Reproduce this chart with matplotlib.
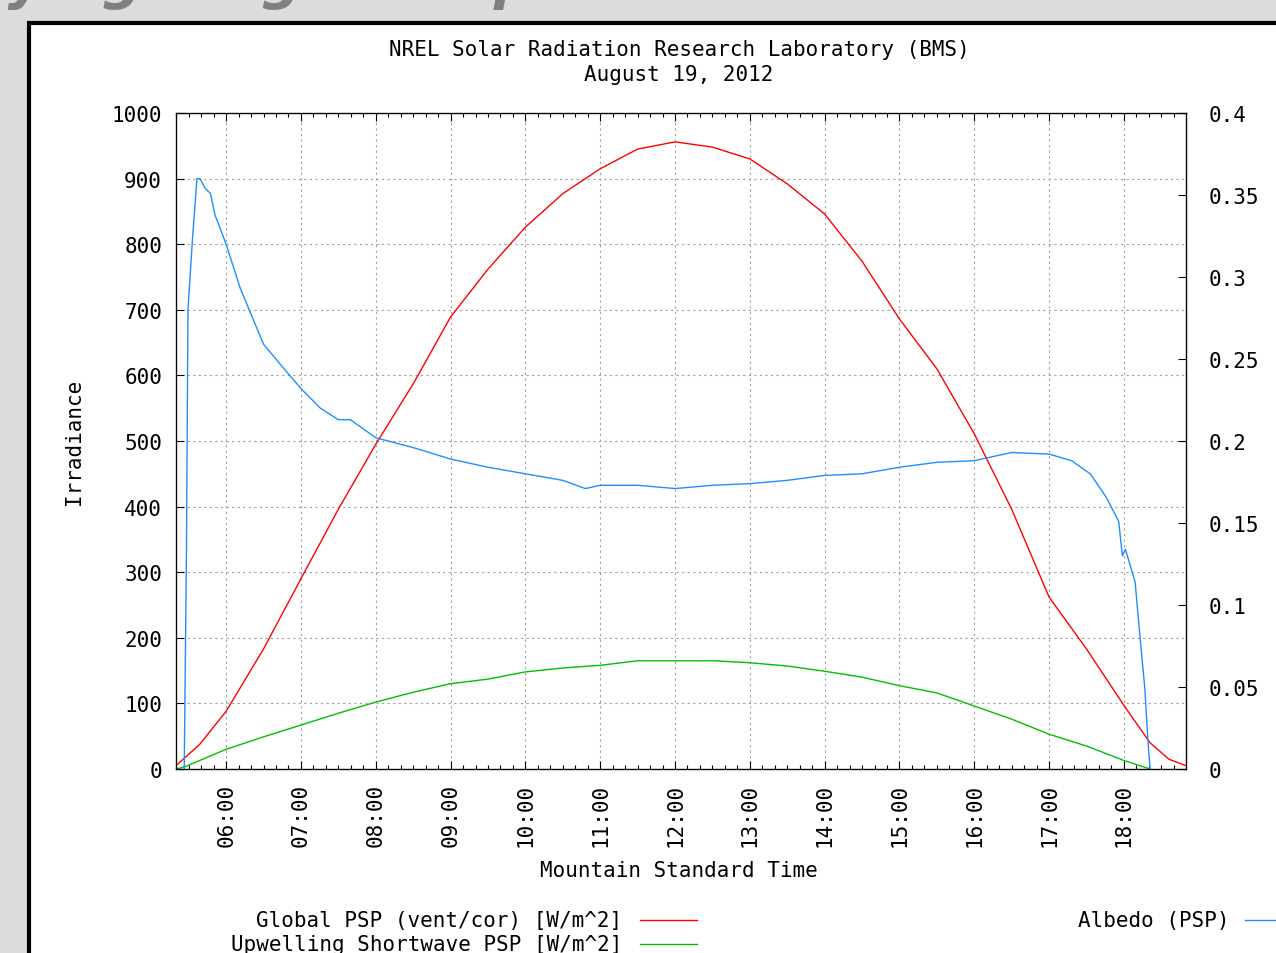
import matplotlib
matplotlib.use('Agg')
import matplotlib.pyplot as plt
from matplotlib.lines import Line2D
from matplotlib.patches import Rectangle
from matplotlib.ticker import MultipleLocator

# hours (Mountain Standard Time) and readings
global_t = [5.33, 5.65, 6.0, 6.5, 7.0, 7.5, 8.0, 8.5, 9.0, 9.5, 10.0, 10.5, 11.0, 11.5,
            12.0, 12.5, 13.0, 13.5, 14.0, 14.5, 15.0, 15.5, 16.0, 16.5, 17.0, 17.5,
            18.0, 18.35, 18.6, 18.83]
global_psp = [5, 38, 88, 183, 290, 396, 495, 587, 689, 762, 826, 877, 915, 945,
              956, 948, 930, 892, 846, 774, 686, 610, 511, 396, 262, 183,
              97, 40, 15, 5]

up_t = [5.33, 5.44, 6.0, 6.5, 7.0, 7.5, 8.0, 8.5, 9.0, 9.5, 10.0, 10.5, 11.0, 11.5,
        12.0, 12.5, 13.0, 13.5, 14.0, 14.5, 15.0, 15.5, 16.0, 16.5, 17.0, 17.5,
        18.0, 18.35]
upwelling = [0, 3, 30, 49, 67, 85, 102, 117, 130, 137, 148, 154, 158, 165,
             165, 165, 162, 157, 149, 140, 127, 116, 96, 76, 53, 35,
             13, 0]

alb_t = [5.44, 5.47, 5.49, 5.55, 5.61, 5.65, 5.72, 5.79, 5.85, 6.0, 6.19, 6.5, 6.72,
         7.0, 7.26, 7.5, 7.66, 8.0, 8.33, 8.5, 9.0, 9.5, 10.0, 10.5, 10.8, 11.0,
         11.5, 12.0, 12.5, 13.0, 13.5, 14.0, 14.5, 15.0, 15.5, 16.0, 16.5, 17.0,
         17.3, 17.55, 17.76, 17.93, 17.98, 18.02, 18.15, 18.21, 18.28, 18.32, 18.35]
albedo = [0.0, 0.134, 0.280, 0.323, 0.360, 0.360, 0.354, 0.351, 0.338, 0.320, 0.293,
          0.259, 0.247, 0.232, 0.220, 0.213, 0.213, 0.202, 0.198, 0.196, 0.189, 0.184,
          0.180, 0.176, 0.171, 0.173, 0.173, 0.171, 0.173, 0.174, 0.176, 0.179, 0.180,
          0.184, 0.187, 0.188, 0.193, 0.192, 0.188, 0.180, 0.166, 0.151, 0.130, 0.134,
          0.114, 0.083, 0.049, 0.018, 0.0]

hours = list(range(6, 19))
hour_labels = [f'{h:02d}:00' for h in hours]
alb_ticks = [0, 0.05, 0.1, 0.15, 0.2, 0.25, 0.3, 0.35, 0.4]
alb_labels = ['0', '0.05', '0.1', '0.15', '0.2', '0.25', '0.3', '0.35', '0.4']

W, H = 1276, 954
mono = 'DejaVu Sans Mono'
fs = 15

fig = plt.figure(figsize=(W / 100, H / 100), dpi=100, facecolor='#dcdcdc')

# clipped page heading above the chart panel
fig.text(-138 / W, 1 + 2 / H, 'Studying Large Samples', fontsize=40, color='#808080',
         fontweight='bold', fontstyle='italic', ha='left', va='baseline', zorder=-3)

# white panel with black frame
fig.patches.append(Rectangle((29 / W, -0.1), 1.2, 1.1 - 24 / H, transform=fig.transFigure,
                             facecolor='white', edgecolor='black', lw=3, zorder=-2))

ax = fig.add_axes([176 / W, 1 - 770 / H, (1186 - 176) / W, (770 - 114) / H])
ax.set_facecolor('none')
ax.plot(global_t, global_psp, color='#ff0000', lw=1.0)
ax.plot(up_t, upwelling, color='#00c000', lw=1.0)

ax.set_xlim(5.33, 18.83)
ax.set_ylim(0, 1000)
ax.set_xticks(hours)
ax.set_xticklabels(hour_labels, rotation=90, family=mono, fontsize=fs)
ax.xaxis.set_minor_locator(MultipleLocator(1 / 6))
ax.yaxis.set_major_locator(MultipleLocator(100))
for lab in ax.get_yticklabels():
    lab.set_family(mono)
    lab.set_fontsize(fs)
ax.tick_params(which='both', direction='in', top=True, right=True, width=0.8)
ax.tick_params(which='major', length=6)
ax.tick_params(which='minor', length=3)
ax.tick_params(axis='x', pad=10)
ax.tick_params(axis='y', pad=10)
ax.grid(True, color='#a0a0a0', lw=0.8, linestyle=(0, (2, 3)))
for sp in ax.spines.values():
    sp.set_linewidth(0.9)

ax2 = ax.twinx()
ax2.plot(alb_t, albedo, color='#1e8fff', lw=1.0)
ax2.set_ylim(0, 0.4)
ax2.set_yticks(alb_ticks)
ax2.set_yticklabels(alb_labels, family=mono, fontsize=fs)
ax2.tick_params(direction='in', length=6, width=0.8, pad=16)

ax.set_ylabel('Irradiance', family=mono, fontsize=fs)
ax.yaxis.set_label_coords((84 - 176) / (1186 - 176), 0.5)
fig.text(679 / W, 1 - 871 / H, 'Mountain Standard Time', family=mono, fontsize=fs,
         ha='center', va='center')

fig.text(679 / W, 1 - 50 / H, 'NREL Solar Radiation Research Laboratory (BMS)',
         family=mono, fontsize=fs, ha='center', va='center')
fig.text(679 / W, 1 - 75 / H, 'August 19, 2012', family=mono, fontsize=fs,
         ha='center', va='center')

# legend drawn by hand, gnuplot style
legend = [('Global PSP (vent/cor) [W/m^2]', '#ff0000', 622, 640, 697, 921),
          ('Upwelling Shortwave PSP [W/m^2]', '#00c000', 622, 640, 697, 945),
          ('Albedo (PSP)', '#1e8fff', 1229, 1245, 1300, 921)]
for label, col, tx, x0, x1, y in legend:
    fig.text(tx / W, 1 - y / H, label, family=mono, fontsize=fs, ha='right', va='center')
    fig.lines.append(Line2D([x0 / W, x1 / W], [1 - y / H, 1 - y / H], color=col, lw=1.0,
                            transform=fig.transFigure))

fig.savefig('out.png', dpi=100, facecolor=fig.get_facecolor())
